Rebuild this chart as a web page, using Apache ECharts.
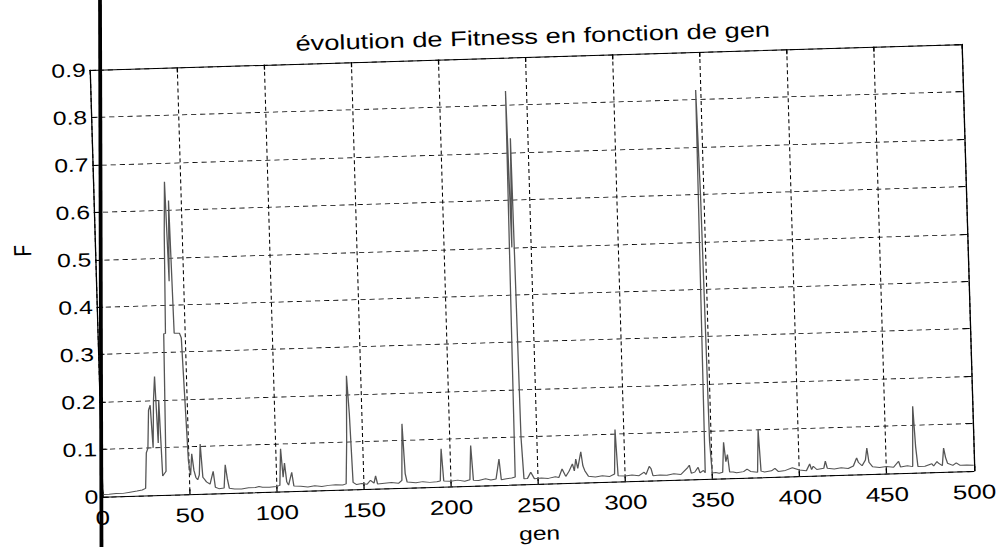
<!DOCTYPE html>
<html><head><meta charset="utf-8">
<script src="https://cdn.jsdelivr.net/npm/echarts@6/dist/echarts.min.js"></script>
<style>
html,body{margin:0;padding:0;width:1002px;height:547px;overflow:hidden;background:#fff;}
#chart{position:absolute;left:0;top:0;width:820px;height:640px;transform-origin:0 0;background:#fff;}
</style></head><body><div id="chart"></div>
<script>
// generation numbers (x) and fitness values (y)
const gen = [
  0,4,8,12,16,20,23,25,26,27,28,29,30,31,32,33,34,35,36,37,38,39,40,41,42,43,44,45,46,47,48,49,
  50,51,52,53,54,55,56,57,58,59,60,62,64,65,67,70,71,72,73,76,80,84,88,90,92,96,
  100,102,103,104,105,106,107,109,110,114,118,122,126,130,134,138,140,141,142,143,144,146,149,
  152,154,156,157,158,162,166,170,172,173,174,175,
  180,184,188,192,194,195,196,200,204,208,211,212,213,216,220,223,226,228,229,232,235,237,238,239,240,241,242,244,246,248,
  252,256,260,262,264,266,268,270,271,272,273,275,276,277,279,283,287,291,294,295,296,
  300,304,308,311,312,314,315,316,320,324,328,332,336,337,338,340,342,343,345,346,347,348,349,
  350,352,354,356,357,358,359,360,362,364,368,370,372,376,377,378,380,384,386,388,392,396,
  400,404,406,407,408,410,414,415,416,420,424,428,431,433,434,436,438,439,440,442,446,
  450,454,457,458,462,465,466,467,468,472,476,477,479,480,482,483,484,485,488,490,492,493,496,500];
const fitness = [
  0.005,0.005,0.006,0.006,0.008,0.01,0.012,0.015,0.09,0.1,0.18,0.19,0.1,0.2,0.25,0.11,0.2,0.04,0.045,0.05,0.34,0.34,0.55,0.66,0.45,0.62,0.34,0.34,0.34,0.34,0.33,0.2,
  0.07,0.04,0.085,0.05,0.035,0.03,0.04,0.105,0.035,0.03,0.025,0.02,0.047,0.013,0.01,0.011,0.06,0.03,0.01,0.008,0.008,0.01,0.01,0.012,0.01,0.01,
  0.011,0.013,0.09,0.03,0.06,0.02,0.013,0.04,0.011,0.01,0.008,0.01,0.008,0.01,0.011,0.01,0.012,0.1,0.24,0.16,0.015,0.01,0.012,
  0.01,0.018,0.012,0.027,0.01,0.011,0.012,0.01,0.016,0.135,0.03,0.012,
  0.01,0.012,0.01,0.011,0.012,0.08,0.012,0.011,0.013,0.01,0.013,0.085,0.012,0.011,0.014,0.011,0.013,0.055,0.011,0.013,0.014,0.016,0.83,0.5,0.73,0.1,0.012,0.012,0.025,0.011,
  0.012,0.011,0.014,0.012,0.03,0.014,0.025,0.04,0.025,0.05,0.03,0.065,0.035,0.025,0.013,0.011,0.013,0.011,0.016,0.11,0.012,
  0.011,0.013,0.011,0.018,0.013,0.03,0.025,0.01,0.011,0.01,0.013,0.011,0.025,0.03,0.013,0.015,0.025,0.013,0.018,0.013,0.82,0.6,0.08,
  0.012,0.013,0.011,0.013,0.076,0.035,0.05,0.013,0.013,0.011,0.013,0.018,0.013,0.011,0.1,0.013,0.011,0.013,0.018,0.011,0.013,0.018,
  0.013,0.011,0.025,0.013,0.02,0.013,0.015,0.03,0.015,0.013,0.015,0.013,0.018,0.035,0.025,0.018,0.03,0.055,0.025,0.015,0.013,
  0.015,0.013,0.025,0.013,0.015,0.013,0.14,0.055,0.013,0.013,0.018,0.013,0.022,0.018,0.013,0.05,0.03,0.018,0.013,0.018,0.013,0.013,0.013,0.012];
const xTicks = {min: 0, max: 500, step: 50};
const yTicks = {min: 0, max: 0.9, step: 0.1};
const titleText = 'évolution de Fitness en fonction de gen';
const xName = 'gen';
const yName = 'F';

// ---- layout: the reference is a slightly rotated, horizontally stretched scan ----
const SX = 1.3, ANG = -1.7;
const CX = 531.75, CY = 270.5;
const G = {left: 95, top: 103, width: 670.8, height: 427};
const cu = [G.left + G.width / 2, G.top + G.height / 2];
const el = document.getElementById('chart');
el.style.transform = `translate(${CX}px,${CY}px) rotate(${ANG}deg) scaleX(${SX}) translate(${-cu[0]}px,${-cu[1]}px)`;
function toLocal(X, Y) {
  const a = ANG * Math.PI / 180, c = Math.cos(a), s = Math.sin(a);
  const dx = X - CX, dy = Y - CY;
  const x = dx * c + dy * s, y = -dx * s + dy * c;
  return [cu[0] + x / SX, cu[1] + y];
}
const FONT = 'Liberation Sans, Arial, Helvetica, sans-serif';
const p1 = toLocal(100, -5), p2 = toLocal(101.5, 552);

const chart = echarts.init(el, null, {renderer: 'svg'});
chart.setOption({
  animation: false,
  backgroundColor: '#fff',
  title: {
    text: titleText, left: cu[0] + 1.1, top: 67, textAlign: 'center',
    textStyle: {fontFamily: FONT, fontSize: 21, fontWeight: 'normal', color: '#000'}
  },
  grid: {left: G.left, top: G.top, width: G.width, height: G.height, containLabel: false, outerBoundsMode: 'none'},
  xAxis: [{
    type: 'value', min: xTicks.min, max: xTicks.max, interval: xTicks.step, position: 'bottom',
    axisLine: {show: true, onZero: false, lineStyle: {color: '#000', width: 1}},
    axisTick: {show: true, inside: true, length: 5, lineStyle: {color: '#000'}},
    axisLabel: {margin: 11, fontSize: 20, color: '#000', fontFamily: FONT},
    splitLine: {show: true, lineStyle: {type: [4, 3], color: '#000', width: 0.8}},
    name: xName, nameLocation: 'middle', nameGap: 40,
    nameTextStyle: {fontSize: 19, color: '#000', fontFamily: FONT}
  }, {
    type: 'value', min: xTicks.min, max: xTicks.max, interval: xTicks.step, position: 'top',
    axisLine: {show: true, onZero: false, lineStyle: {color: '#000', width: 1}},
    axisTick: {show: true, inside: true, length: 5, lineStyle: {color: '#000'}},
    axisLabel: {show: false}, splitLine: {show: false}
  }],
  yAxis: [{
    type: 'value', min: yTicks.min, max: yTicks.max, interval: yTicks.step, position: 'left',
    axisLine: {show: true, onZero: false, lineStyle: {color: '#000', width: 1}},
    axisTick: {show: true, inside: true, length: 5, lineStyle: {color: '#000'}},
    axisLabel: {margin: 3, fontSize: 19, color: '#000', fontFamily: FONT},
    splitLine: {show: true, lineStyle: {type: [4, 3], color: '#000', width: 0.8}},
    name: yName, nameLocation: 'middle', nameGap: 46, nameRotate: 90,
    nameTextStyle: {fontSize: 19, color: '#000', fontFamily: FONT, padding: [0, 0, 0, 70]}
  }, {
    type: 'value', min: yTicks.min, max: yTicks.max, interval: yTicks.step, position: 'right',
    axisLine: {show: true, onZero: false, lineStyle: {color: '#000', width: 1}},
    axisTick: {show: true, inside: true, length: 5, lineStyle: {color: '#000'}},
    axisLabel: {show: false}, splitLine: {show: false}
  }],
  series: [{
    type: 'line', xAxisIndex: 0, yAxisIndex: 0, symbol: 'none',
    data: gen.map((g, i) => [g, fitness[i]]),
    lineStyle: {color: '#555', width: 1}
  }],
  graphic: [{
    type: 'line', silent: true, z: 100,
    shape: {x1: p1[0], y1: p1[1], x2: p2[0], y2: p2[1]},
    style: {stroke: '#000', lineWidth: 2.9}
  }]
});
</script></body></html>
